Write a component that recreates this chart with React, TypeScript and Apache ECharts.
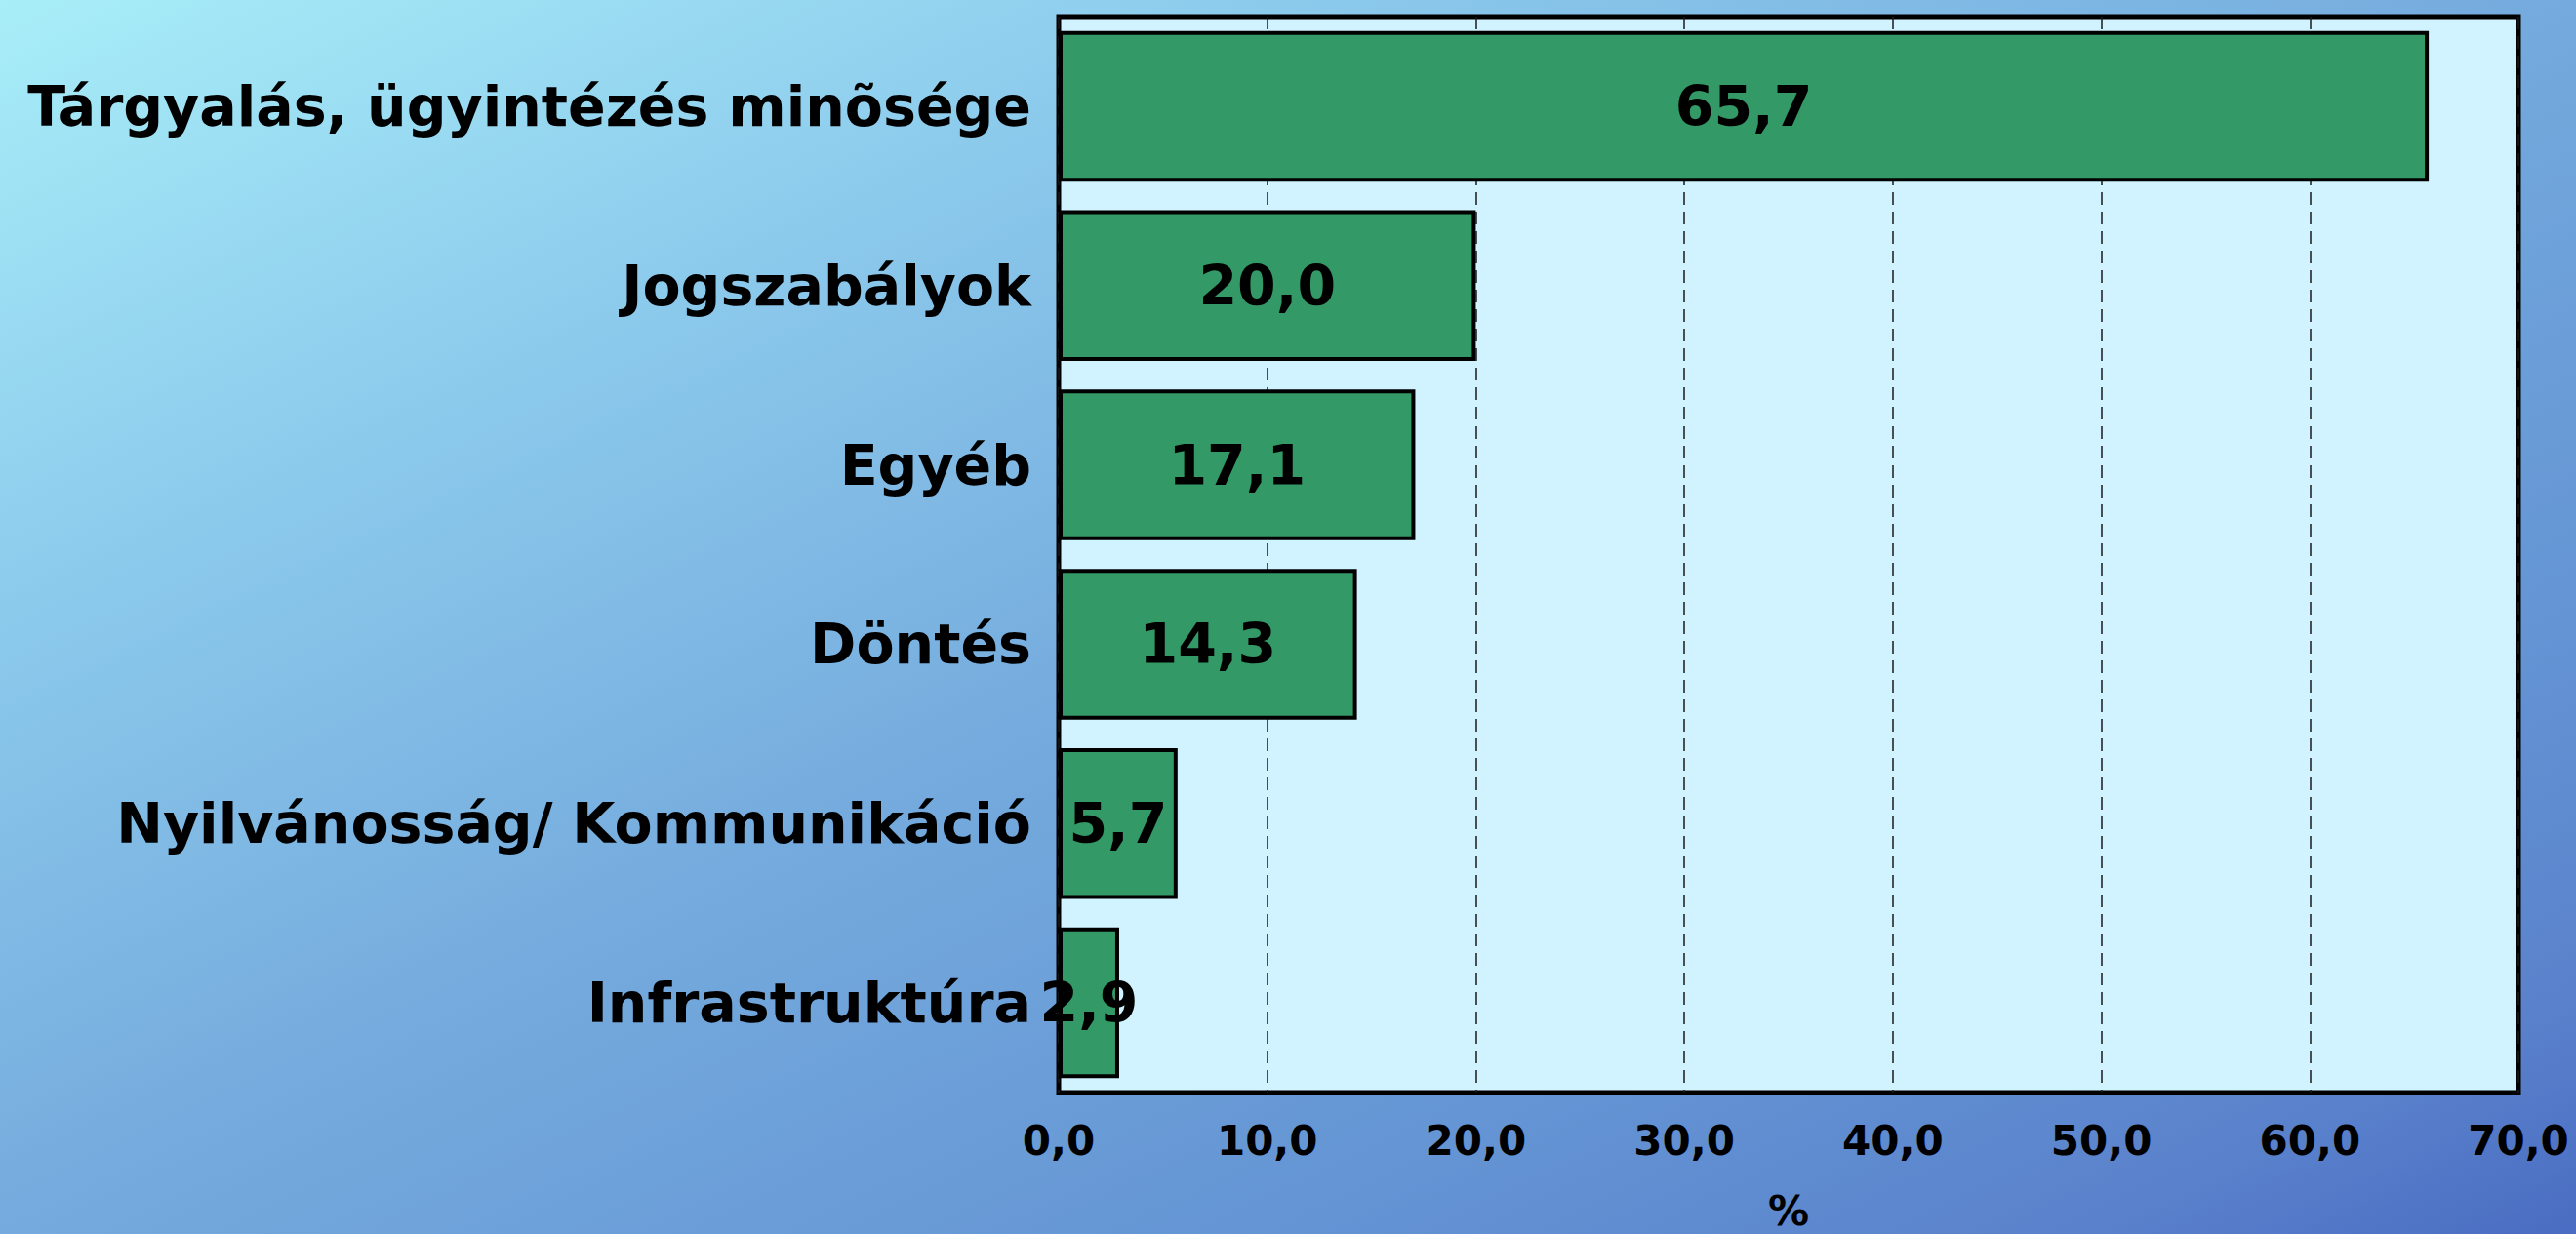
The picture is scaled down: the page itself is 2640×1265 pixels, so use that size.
import React, { useEffect, useRef } from "react";
import * as echarts from "echarts";

const categories = [
  "Tárgyalás, ügyintézés minõsége",
  "Jogszabályok",
  "Egyéb",
  "Döntés",
  "Nyilvánosság/ Kommunikáció",
  "Infrastruktúra",
];
const values = [65.7, 20.0, 17.1, 14.3, 5.7, 2.9];
const axisMin = 0;
const axisMax = 70;
const axisStep = 10;
const axisName = "%";

const fmt = (v: number) => v.toFixed(1).replace(".", ",");

export default function App() {
  const ref = useRef<HTMLDivElement>(null);
  useEffect(() => {
    if (!ref.current) return;
    const chart = echarts.init(ref.current, undefined, { renderer: "svg" });
    const font = "'DejaVu Sans', Verdana, sans-serif";
    chart.setOption({
      animation: false,
      backgroundColor: new echarts.graphic.LinearGradient(0, 0, 1, 1, [
        { offset: 0, color: "#A8EEF8" },
        { offset: 0.25, color: "#8CCAEC" },
        { offset: 0.5, color: "#74AADD" },
        { offset: 0.75, color: "#6494D4" },
        { offset: 0.9, color: "#5A82CC" },
        { offset: 1, color: "#4A6CC2" },
      ]),
      grid: {
        left: 1085,
        right: 59,
        top: 17,
        bottom: 145,
        containLabel: false,
        outerBoundsMode: "none",
        show: true,
        backgroundColor: "#D0F3FF",
        borderColor: "#000",
        borderWidth: 5,
      },
      xAxis: {
        type: "value",
        min: axisMin,
        max: axisMax,
        interval: axisStep,
        name: axisName,
        nameLocation: "middle",
        nameGap: 100,
        nameTextStyle: { fontSize: 42, fontWeight: "bold", color: "#000", fontFamily: font },
        axisLine: { show: false },
        axisTick: { show: false },
        axisLabel: {
          formatter: (v: number) => fmt(v),
          fontSize: 42,
          fontWeight: "bold",
          color: "#000",
          fontFamily: font,
          margin: 28,
        },
        splitLine: {
          show: true,
          lineStyle: { color: "#1a1a1a", width: 1.5, type: [13, 7] },
        },
      },
      yAxis: {
        type: "category",
        inverse: true,
        data: categories,
        axisLine: { show: false },
        axisTick: { show: false },
        axisLabel: {
          fontSize: 57,
          fontWeight: "bold",
          color: "#000",
          fontFamily: font,
          margin: 28,
        },
      },
      series: [
        {
          type: "bar",
          data: values,
          barCategoryGap: "16%",
          itemStyle: { color: "#339966", borderColor: "#000", borderWidth: 4 },
          label: {
            show: true,
            position: "inside",
            formatter: (p: any) => fmt(p.value),
            fontSize: 57,
            fontWeight: "bold",
            color: "#000",
            fontFamily: font,
          },
        },
      ],
    });
    return () => chart.dispose();
  }, []);
  return (
    <div
      ref={ref}
      style={{ position: "fixed", left: 0, top: 0, width: 2640, height: 1265 }}
    />
  );
}
